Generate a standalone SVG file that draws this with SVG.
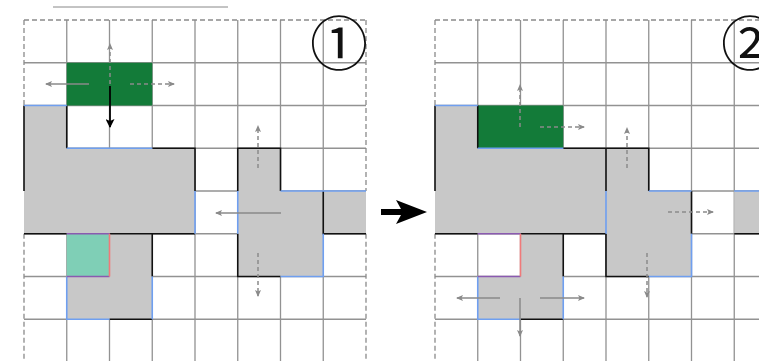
<svg xmlns="http://www.w3.org/2000/svg" width="759" height="361" viewBox="0 0 759 361">
<style>
.grid{stroke:#929292;stroke-width:1.3;fill:none}
.border{stroke:#8a8a8a;stroke-width:1.3;fill:none;stroke-dasharray:5 3}
.gray{fill:#c8c8c8}
.green{fill:#137b39}
.teal{fill:#7fcfb6}
.eb{stroke:#111;stroke-width:1.6;fill:none}
.ebl{stroke:#6f9ff0;stroke-width:1.6;fill:none}
.epu{stroke:#8a5ab0;stroke-width:1.6;fill:none}
.ere{stroke:#f07a7a;stroke-width:1.6;fill:none}
.ga{stroke:#8a8a8a;stroke-width:1.5;fill:none;marker-end:url(#ah)}
.gd{stroke:#8a8a8a;stroke-width:1.5;fill:none;stroke-dasharray:4 3;marker-end:url(#ah)}
.ba{stroke:#000;stroke-width:1.8;fill:none;marker-end:url(#bh)}
.num{font-family:"DejaVu Serif","Noto Sans CJK SC",serif;font-size:58px;fill:#111}
</style>
<defs>
<marker id="ah" markerUnits="userSpaceOnUse" markerWidth="7" markerHeight="6" refX="6" refY="3" orient="auto"><path d="M0,0 L7,3 L0,6 L1.5,3 Z" fill="#8a8a8a"/></marker>
<marker id="bh" markerUnits="userSpaceOnUse" markerWidth="9" markerHeight="9" refX="8" refY="4.5" orient="auto"><path d="M0,0 L9,4.5 L0,9 L2,4.5 Z" fill="#000"/></marker>
<g id="gridlines">
<path class="grid" d="M42.75,0V341M85.5,0V341M128.25,0V341M171,0V341M213.75,0V341M256.5,0V341M299.25,0V341M0,42.75H342M0,85.5H342M0,128.25H342M0,171H342M0,213.75H342M0,256.5H342M0,299.25H342"/>
</g>
</defs>
<line x1="53" y1="7" x2="228" y2="7" stroke="#888" stroke-width="1"/>

<g id="panel1" transform="translate(24,20)">
<use href="#gridlines"/>
<path class="border" d="M0,0H342M0,0V85.5M0,213.75V341M342,0V171M342,213.75V341"/>
<g id="p1-blockA"><path class="gray" d="M0,85.5H42.75V128.25H171V213.75H0Z"/><rect class="gray" x="299.25" y="171" width="42.75" height="42.75"/></g>
<g id="p1-green"><rect class="green" x="42.75" y="42.75" width="85.5" height="42.75"/></g>
<g id="p1-blockB"><path class="gray" d="M213.75,128.25H256.5V171H299.25V256.5H213.75Z"/></g>
<g id="p1-blockC"><rect class="gray" x="42.75" y="213.75" width="85.5" height="85.5"/><rect class="teal" x="42.75" y="213.75" width="42.75" height="42.75"/></g>
<path class="eb" d="M0,85.5V171M42.75,85.5V128.25M128.25,128.25H171V171M0,213.75H42.75M85.5,213.75H171M128.25,213.75V256.5M85.5,299.25H128.25M213.75,171V128.25H256.5V171M213.75,213.75V256.5H256.5M299.25,171V213.75H342"/>
<path class="ebl" d="M0,85.5H42.75M42.75,128.25H128.25M171,171V213.75M213.75,171V213.75M256.5,171H342M299.25,213.75V256.5H256.5M42.75,256.5V299.25H85.5M128.25,256.5V299.25"/>
<path class="epu" d="M42.75,213.75H85.5M42.75,256.5H85.5"/>
<path class="ere" d="M85.5,213.75V256.5"/>
<g id="label1"><text class="num" x="315" y="25" text-anchor="middle" dominant-baseline="central">①</text></g>
</g>

<g id="panel2" transform="translate(435,20)">
<use href="#gridlines"/>
<path class="border" d="M0,0H342M0,0V85.5M0,213.75V341"/>
<g id="p2-blockA"><path class="gray" d="M0,85.5H42.75V128.25H171V213.75H0Z"/><rect class="gray" x="299.25" y="171" width="42.75" height="42.75"/></g>
<g id="p2-green"><rect class="green" x="42.75" y="85.5" width="85.5" height="42.75"/></g>
<g id="p2-blockB"><path class="gray" d="M171,128.25H213.75V171H256.5V256.5H171Z"/></g>
<g id="p2-blockC"><path class="gray" d="M85.5,213.75H128.25V299.25H42.75V256.5H85.5Z"/></g>
<path class="eb" d="M0,85.5V171M42.75,85.5V128.25M128.25,128.25H213.75V171M171,128.25V171M0,213.75H42.75M85.5,213.75H171M128.25,213.75V256.5M85.5,299.25H128.25M171,213.75V256.5H213.75M256.5,171V213.75M299.25,213.75H342"/>
<path class="ebl" d="M0,85.5H42.75M42.75,128.25H128.25M171,171V213.75M213.75,171H256.5M299.25,171H342M256.5,213.75V256.5H213.75M42.75,256.5V299.25H85.5M128.25,256.5V299.25"/>
<path class="epu" d="M42.75,213.75H85.5M42.75,256.5H85.5"/>
<path class="ere" d="M85.5,213.75V256.5"/>
<g id="label2"><text class="num" x="315" y="25" text-anchor="middle" dominant-baseline="central">②</text></g>
</g>

<g id="connectors">
<line class="gd" x1="110" y1="84" x2="110" y2="44"/>
<line class="ga" x1="89" y1="84" x2="46" y2="84"/>
<line class="gd" x1="130" y1="84" x2="174" y2="84"/>
<line class="ba" x1="110" y1="86" x2="110" y2="127"/>
<line class="gd" x1="258" y1="168" x2="258" y2="126"/>
<line class="ga" x1="281" y1="213" x2="216" y2="213"/>
<line class="gd" x1="258" y1="253" x2="258" y2="296"/>
<line class="gd" x1="520" y1="127" x2="520" y2="85"/>
<line class="gd" x1="540" y1="127" x2="584" y2="127"/>
<line class="gd" x1="627" y1="168" x2="627" y2="128"/>
<line class="gd" x1="668" y1="212" x2="713" y2="212"/>
<line class="gd" x1="647" y1="253" x2="647" y2="297"/>
<line class="ga" x1="500" y1="298" x2="457" y2="298"/>
<line class="ga" x1="540" y1="298" x2="584" y2="298"/>
<line class="ga" x1="520" y1="298" x2="520" y2="336"/>
<path id="step-arrow" d="M381,209 L401,209 L396,200 L427,212 L396,224 L401,215 L381,215 Z" fill="#000"/>
</g>
</svg>
